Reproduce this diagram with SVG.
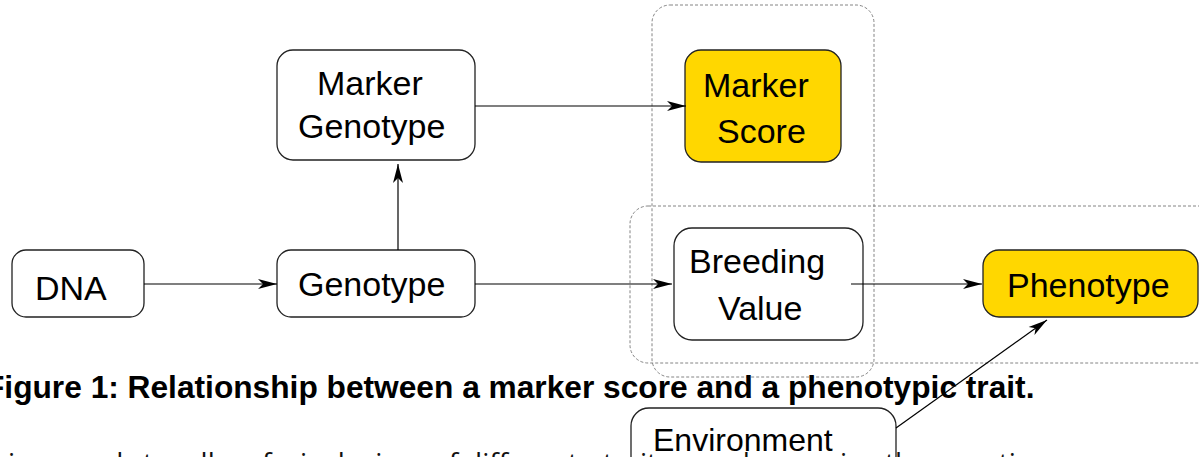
<svg xmlns="http://www.w3.org/2000/svg" width="1199" height="457" viewBox="0 0 1199 457">
<style>
.box{fill:#fff;stroke:#222;stroke-width:1.3}
.hl{fill:#FFD700;stroke:#222;stroke-width:1.3}
.grp{fill:none;stroke:#777;stroke-width:0.9;stroke-dasharray:3 2}
.lbl{font-family:"Liberation Sans",Arial,sans-serif;font-size:34px;fill:#000}
.cap{font-family:"Liberation Sans",Arial,sans-serif;font-size:31.7px;font-weight:bold;fill:#000}
.body{font-family:"Open Sans","Liberation Sans",sans-serif;font-size:28px;fill:#111}
.conn line{stroke:#000;stroke-width:1.2;marker-end:url(#ah)}
</style>
<defs>
<marker id="ah" markerUnits="userSpaceOnUse" markerWidth="20" markerHeight="12" refX="19" refY="5" orient="auto" viewBox="0 0 20 10">
<path d="M0,0 L19,5 L0,10 L5,5 z" fill="#000"/>
</marker>
</defs>
<g id="groups">
<rect class="grp" x="652" y="5" width="222" height="372" rx="18"/>
<rect class="grp" x="630" y="206" width="620" height="157" rx="18"/>
</g>
<g id="dna"><rect class="box" x="12" y="250" width="132" height="67" rx="14"/><text class="lbl" x="35" y="300">DNA</text></g>
<g id="genotype"><rect class="box" x="277" y="250" width="198" height="67" rx="14"/><text class="lbl" x="298" y="296">Genotype</text></g>
<g id="marker-genotype"><rect class="box" x="277" y="50" width="198" height="110" rx="16"/><text class="lbl" x="317" y="95">Marker</text><text class="lbl" x="298" y="138">Genotype</text></g>
<g id="marker-score"><rect class="hl" x="685" y="50" width="156" height="112" rx="16"/><text class="lbl" x="703" y="97">Marker</text><text class="lbl" x="717" y="143">Score</text></g>
<g id="breeding-value"><rect class="box" x="674" y="228" width="189" height="112" rx="18"/><text class="lbl" x="689" y="273">Breeding</text><text class="lbl" x="718" y="320">Value</text></g>
<g id="phenotype"><rect class="hl" x="983" y="250" width="215" height="67" rx="16"/><text class="lbl" x="1007" y="297">Phenotype</text></g>
<g id="environment"><rect x="631" y="408" width="265" height="90" rx="18" fill="none" stroke="#222" stroke-width="1.3"/><text class="lbl" x="653" y="451" style="font-size:32px">Environment</text></g>
<g id="connectors" class="conn">
<line x1="144" y1="284" x2="277" y2="284"/>
<line x1="398" y1="250" x2="398" y2="164"/>
<line x1="475" y1="106" x2="686" y2="106"/>
<line x1="475" y1="284" x2="672" y2="284"/>
<line x1="851" y1="284" x2="982" y2="284"/>
<line x1="896" y1="428" x2="1047" y2="320"/>
</g>
<text class="cap" x="-15" y="398">Figure 1: Relationship between a marker score and a phenotypic trait.</text>
<text class="body" y="473"><tspan x="8">is</tspan><tspan x="60">used</tspan><tspan x="143">to</tspan><tspan x="185">allow</tspan><tspan x="262">for</tspan><tspan x="300">inclusion</tspan><tspan x="432">of</tspan><tspan x="465">different</tspan><tspan x="603">traits</tspan><tspan x="700">and</tspan><tspan x="840">in</tspan><tspan x="885">the</tspan><tspan x="935">genetic</tspan></text>
</svg>
